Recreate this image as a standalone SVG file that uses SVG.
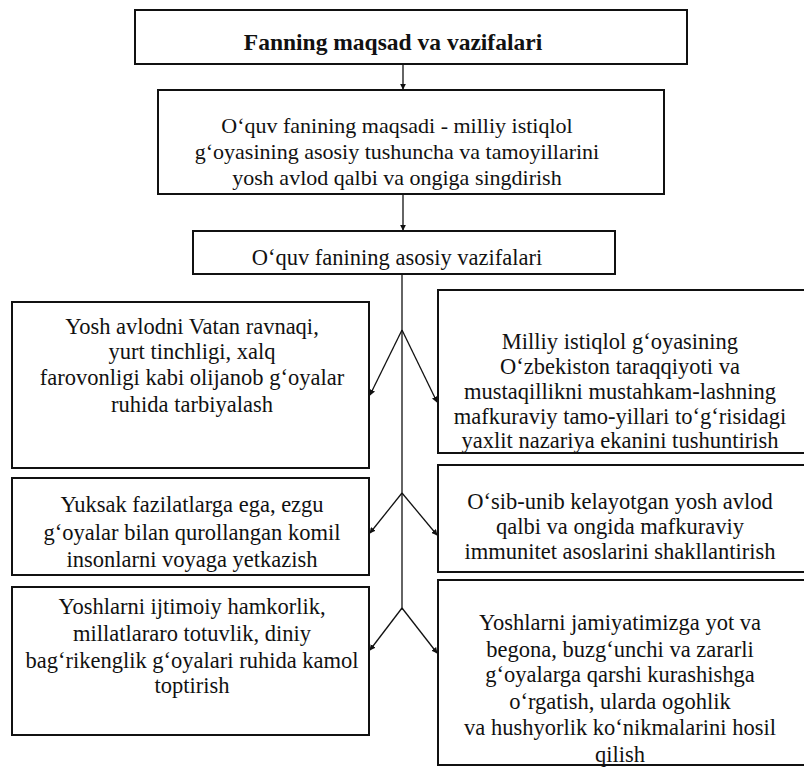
<svg xmlns="http://www.w3.org/2000/svg" width="804" height="770" viewBox="0 0 804 770">
<style>
.box{fill:#fff;stroke:#111;stroke-width:2}
.t{font-family:'Liberation Serif','DejaVu Serif','Times New Roman',serif;font-size:22.5px;fill:#111;text-anchor:middle}
.m{font-size:22px}
.b{font-weight:bold;font-size:23.5px}
.c{stroke:#111;stroke-width:1.3;fill:none}
</style>
<defs>
<marker id="ah" viewBox="0 0 8 8" refX="7" refY="4" markerWidth="6" markerHeight="6" orient="auto" markerUnits="userSpaceOnUse">
<path d="M0,0 L8,4 L0,8 z" fill="#111"/>
</marker>
</defs>
<rect width="804" height="770" fill="#fff"/>
<g id="connectors">
<line class="c" x1="403" y1="63" x2="403" y2="89" marker-end="url(#ah)"/>
<line class="c" x1="403" y1="194" x2="403" y2="230" marker-end="url(#ah)"/>
<line class="c" x1="402" y1="274" x2="402" y2="610"/>
<line class="c" x1="402" y1="330" x2="370" y2="395" marker-end="url(#ah)"/>
<line class="c" x1="402" y1="330" x2="437" y2="402" marker-end="url(#ah)"/>
<line class="c" x1="402" y1="493" x2="370" y2="533" marker-end="url(#ah)"/>
<line class="c" x1="402" y1="493" x2="437" y2="535" marker-end="url(#ah)"/>
<line class="c" x1="402" y1="608" x2="370" y2="650" marker-end="url(#ah)"/>
<line class="c" x1="402" y1="608" x2="437" y2="653" marker-end="url(#ah)"/>
</g>
<g id="n1">
<rect class="box" x="135" y="10" width="552" height="54"/>
<text class="t b" x="393" y="50">Fanning maqsad va vazifalari</text>
</g>
<g id="n2">
<rect class="box" x="158" y="90" width="506" height="104"/>
<text class="t m" x="397" y="133">O‘quv fanining maqsadi - milliy istiqlol</text>
<text class="t m" x="397" y="159">g‘oyasining asosiy tushuncha va tamoyillarini</text>
<text class="t m" x="397" y="185">yosh avlod qalbi va ongiga singdirish</text>
</g>
<g id="n3">
<rect class="box" x="193" y="231" width="422" height="43"/>
<text class="t" x="397" y="265">O‘quv fanining asosiy vazifalari</text>
</g>
<g id="l1">
<rect class="box" x="12" y="302" width="357" height="166"/>
<text class="t" x="192" y="334">Yosh avlodni Vatan ravnaqi,</text>
<text class="t" x="192" y="359">yurt tinchligi, xalq</text>
<text class="t" x="192" y="385">farovonligi kabi olijanob g‘oyalar</text>
<text class="t" x="192" y="412">ruhida tarbiyalash</text>
</g>
<g id="r1">
<rect class="box" x="438" y="290" width="372" height="163"/>
<text class="t" x="620" y="349">Milliy istiqlol g‘oyasining</text>
<text class="t" x="620" y="374">O‘zbekiston taraqqiyoti va</text>
<text class="t" x="620" y="399">mustaqillikni mustahkam-lashning</text>
<text class="t" x="620" y="424">mafkuraviy tamo-yillari to‘g‘risidagi</text>
<text class="t" x="620" y="448">yaxlit nazariya ekanini tushuntirish</text>
</g>
<g id="l2">
<rect class="box" x="12" y="478" width="357" height="97"/>
<text class="t" x="192" y="512">Yuksak fazilatlarga ega, ezgu</text>
<text class="t" x="192" y="540">g‘oyalar bilan qurollangan komil</text>
<text class="t" x="192" y="567">insonlarni voyaga yetkazish</text>
</g>
<g id="r2">
<rect class="box" x="438" y="465" width="372" height="107"/>
<text class="t" x="620" y="509">O‘sib-unib kelayotgan yosh avlod</text>
<text class="t" x="620" y="534">qalbi va ongida mafkuraviy</text>
<text class="t" x="620" y="559">immunitet asoslarini shakllantirish</text>
</g>
<g id="l3">
<rect class="box" x="12" y="587" width="357" height="148"/>
<text class="t" x="192" y="614">Yoshlarni ijtimoiy hamkorlik,</text>
<text class="t" x="192" y="641">millatlararo totuvlik, diniy</text>
<text class="t" x="192" y="668">bag‘rikenglik g‘oyalari ruhida kamol</text>
<text class="t" x="192" y="693">toptirish</text>
</g>
<g id="r3">
<rect class="box" x="438" y="580" width="372" height="185"/>
<text class="t" x="620" y="630">Yoshlarni jamiyatimizga yot va</text>
<text class="t" x="620" y="657">begona, buzg‘unchi va zararli</text>
<text class="t" x="620" y="682">g‘oyalarga qarshi kurashishga</text>
<text class="t" x="620" y="709">o‘rgatish, ularda ogohlik</text>
<text class="t" x="620" y="735">va hushyorlik ko‘nikmalarini hosil</text>
<text class="t" x="620" y="762">qilish</text>
</g>
</svg>
